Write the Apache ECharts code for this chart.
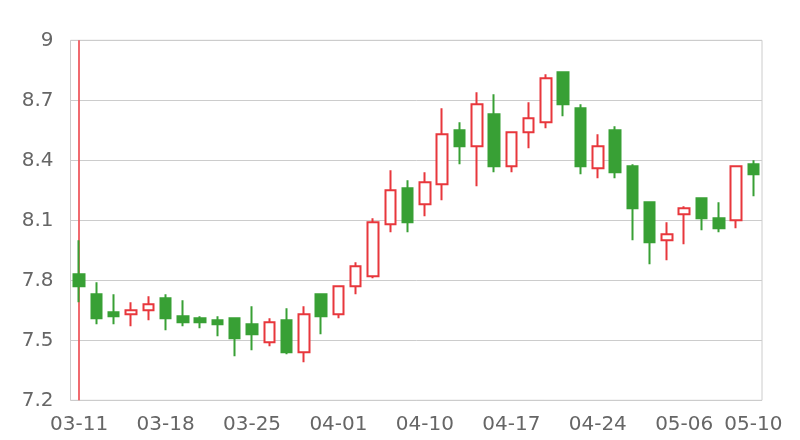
<!DOCTYPE html>
<html>
<head>
<meta charset="utf-8">
<script src="https://cdn.jsdelivr.net/npm/echarts@6/dist/echarts.min.js"></script>
<style>html,body{margin:0;padding:0;background:#fff;}#c{width:800px;height:440px;}</style>
</head>
<body>
<div id="c"></div>
<script>
const categories = ['03-11','03-12','03-13','03-14','03-15','03-18','03-19','03-20','03-21','03-22',
  '03-25','03-26','03-27','03-28','03-29','04-01','04-02','04-03','04-08','04-09',
  '04-10','04-11','04-12','04-15','04-16','04-17','04-18','04-19','04-22','04-23',
  '04-24','04-25','04-26','04-29','04-30','05-06','05-07','05-08','05-09','05-10'];
const opens  = [7.83,7.73,7.64,7.63,7.65,7.71,7.62,7.61,7.60,7.61,
  7.58,7.49,7.60,7.44,7.73,7.63,7.77,7.82,8.08,8.26,
  8.18,8.28,8.55,8.47,8.63,8.37,8.54,8.59,8.84,8.66,
  8.36,8.55,8.37,8.19,8.00,8.13,8.21,8.11,8.10,8.38];
const closes = [7.77,7.61,7.62,7.65,7.68,7.61,7.59,7.59,7.58,7.51,
  7.53,7.59,7.44,7.63,7.62,7.77,7.87,8.09,8.25,8.09,
  8.29,8.53,8.47,8.68,8.37,8.54,8.61,8.81,8.68,8.37,
  8.47,8.34,8.16,7.99,8.03,8.16,8.11,8.06,8.37,8.33];
const lows   = [7.69,7.58,7.58,7.57,7.60,7.55,7.57,7.56,7.52,7.42,
  7.45,7.47,7.43,7.39,7.53,7.61,7.73,7.81,8.04,8.04,
  8.12,8.20,8.38,8.27,8.34,8.34,8.46,8.56,8.62,8.33,
  8.31,8.31,8.00,7.88,7.90,7.98,8.05,8.04,8.06,8.22];
const highs  = [8.00,7.79,7.73,7.69,7.72,7.73,7.70,7.62,7.62,7.61,
  7.67,7.61,7.66,7.67,7.73,7.77,7.89,8.11,8.35,8.30,
  8.34,8.66,8.59,8.74,8.73,8.54,8.69,8.83,8.84,8.68,
  8.53,8.57,8.38,8.19,8.09,8.17,8.21,8.19,8.37,8.40];
const yTicks = [7.2, 9, 0.3];
const markedCategory = '03-11';

const candleData = categories.map((c, i) => [opens[i], closes[i], lows[i], highs[i]]);
const chart = echarts.init(document.getElementById('c'), null, {renderer: 'canvas'});
const font = 'DejaVu Sans';
chart.setOption({
  animation: false,
  grid: {left: 70.5, right: 38, top: 40.3, bottom: 39.7, show: true, borderColor: '#cccccc', borderWidth: 1},
  xAxis: {
    type: 'category', data: categories, boundaryGap: true,
    axisLine: {show: false}, axisTick: {show: false},
    splitLine: {show: false},
    axisLabel: {
      color: '#666', fontFamily: font, fontSize: 20, margin: 14,
      interval: (i) => i % 5 === 0 || i === categories.length - 1
    }
  },
  yAxis: {
    type: 'value', min: yTicks[0], max: yTicks[1], interval: yTicks[2], scale: true,
    axisLine: {show: false}, axisTick: {show: false},
    splitLine: {lineStyle: {color: '#cccccc', width: 1}},
    axisLabel: {color: '#666', fontFamily: font, fontSize: 20, margin: 17,
      formatter: (v) => String(+v.toFixed(1))}
  },
  series: [{
    type: 'line',
    data: [],
    z: 1,
    silent: true,
    markLine: {
      z: 1,
      silent: true, symbol: ['none', 'none'],
      label: {show: false},
      lineStyle: {color: '#ee5a5f', width: 2, type: 'solid', opacity: 0.9},
      data: [{xAxis: markedCategory}]
    }
  }, {
    type: 'candlestick',
    z: 3,
    data: candleData,
    barWidth: 11,
    itemStyle: {
      color: '#ffffff', color0: '#38a035',
      borderColor: '#e8373c', borderColor0: '#38a035',
      borderWidth: 2
    }
  }]
});
</script>
</body>
</html>
